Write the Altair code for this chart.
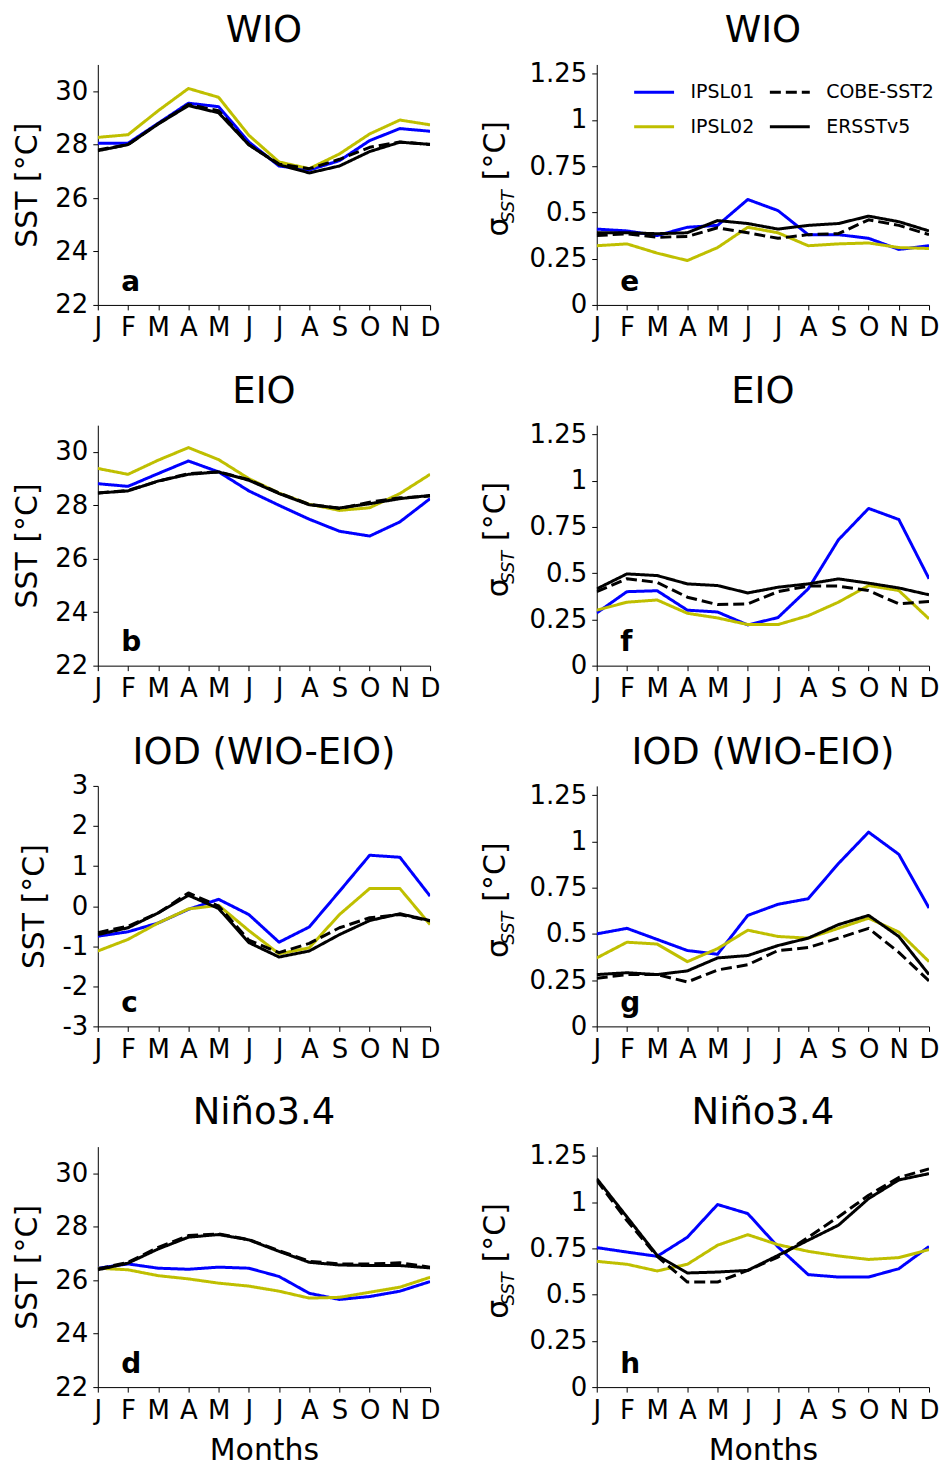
import altair as alt
import pandas as pd

FONT = "DejaVu Sans"

MONTH_LABELS = ["J", "F", "M", "A", "M", "J", "J", "A", "S", "O", "N", "D"]
MONTH_INDEX = list(range(12))
SERIES = ["IPSL01", "IPSL02", "COBE-SST2", "ERSSTv5"]
SERIES_COLORS = ["#0000ff", "#bfbf00", "#000000", "#000000"]
SERIES_DASHES = [[1, 0], [1, 0], [11, 5], [1, 0]]

# ---- WIO mean SST (a)
wio_mean_ipsl01 = [28.05, 28.05, 28.8, 29.55, 29.42, 28.1, 27.2, 27.05, 27.4, 28.15, 28.6, 28.5]
wio_mean_ipsl02 = [28.27, 28.37, 29.27, 30.1, 29.77, 28.35, 27.35, 27.1, 27.65, 28.4, 28.92, 28.74]
wio_mean_cobe = [27.8, 28.0, 28.78, 29.5, 29.27, 28.0, 27.27, 27.1, 27.45, 27.9, 28.1, 28.0]
wio_mean_ersst = [27.77, 28.0, 28.77, 29.46, 29.19, 27.99, 27.25, 26.94, 27.2, 27.74, 28.09, 28.01]

# ---- WIO std (e)
wio_std_ipsl01 = [0.41, 0.40, 0.375, 0.42, 0.43, 0.57, 0.51, 0.38, 0.38, 0.36, 0.30, 0.32]
wio_std_ipsl02 = [0.32, 0.33, 0.28, 0.24, 0.31, 0.42, 0.39, 0.32, 0.33, 0.335, 0.31, 0.305]
wio_std_cobe = [0.375, 0.385, 0.366, 0.37, 0.417, 0.39, 0.36, 0.38, 0.385, 0.46, 0.43, 0.38]
wio_std_ersst = [0.39, 0.39, 0.385, 0.39, 0.456, 0.44, 0.41, 0.43, 0.44, 0.48, 0.45, 0.40]

# ---- EIO mean SST (b)
eio_mean_ipsl01 = [28.81, 28.71, 29.19, 29.66, 29.25, 28.54, 28.0, 27.48, 27.03, 26.85, 27.38, 28.25]
eio_mean_ipsl02 = [29.38, 29.16, 29.69, 30.16, 29.71, 29.0, 28.46, 28.04, 27.81, 27.91, 28.44, 29.16]
eio_mean_cobe = [28.46, 28.56, 28.9, 29.19, 29.25, 28.96, 28.46, 28.04, 27.88, 28.12, 28.28, 28.35]
eio_mean_ersst = [28.46, 28.54, 28.91, 29.16, 29.25, 28.94, 28.44, 28.02, 27.9, 28.06, 28.25, 28.37]

# ---- EIO std (f)
eio_std_ipsl01 = [0.285, 0.40, 0.405, 0.30, 0.29, 0.22, 0.26, 0.415, 0.68, 0.85, 0.79, 0.47]
eio_std_ipsl02 = [0.30, 0.343, 0.355, 0.283, 0.258, 0.222, 0.222, 0.27, 0.343, 0.433, 0.406, 0.253]
eio_std_cobe = [0.40, 0.47, 0.45, 0.37, 0.33, 0.334, 0.40, 0.43, 0.43, 0.406, 0.334, 0.347]
eio_std_ersst = [0.415, 0.496, 0.487, 0.442, 0.433, 0.393, 0.424, 0.442, 0.469, 0.446, 0.42, 0.383]

# ---- IOD mean (c)
iod_mean_ipsl01 = [-0.75, -0.64, -0.42, -0.08, 0.17, -0.21, -0.9, -0.52, 0.37, 1.27, 1.22, 0.25]
iod_mean_ipsl02 = [-1.12, -0.83, -0.42, -0.07, 0.02, -0.61, -1.19, -1.04, -0.21, 0.44, 0.44, -0.46]
iod_mean_cobe = [-0.66, -0.5, -0.17, 0.33, 0.0, -0.85, -1.16, -0.93, -0.54, -0.29, -0.21, -0.37]
iod_mean_ersst = [-0.71, -0.54, -0.17, 0.27, -0.06, -0.91, -1.27, -1.12, -0.71, -0.36, -0.19, -0.36]

# ---- IOD std (g)
iod_std_ipsl01 = [0.50, 0.53, 0.47, 0.41, 0.39, 0.60, 0.66, 0.69, 0.88, 1.05, 0.93, 0.64]
iod_std_ipsl02 = [0.37, 0.455, 0.445, 0.35, 0.42, 0.52, 0.486, 0.477, 0.53, 0.585, 0.51, 0.35]
iod_std_cobe = [0.26, 0.28, 0.28, 0.24, 0.305, 0.333, 0.41, 0.426, 0.477, 0.53, 0.40, 0.246]
iod_std_ersst = [0.28, 0.29, 0.28, 0.30, 0.37, 0.383, 0.437, 0.477, 0.55, 0.60, 0.486, 0.28]

# ---- Nino3.4 mean SST (d)
nino_mean_ipsl01 = [26.45, 26.61, 26.45, 26.41, 26.49, 26.45, 26.14, 25.51, 25.28, 25.39, 25.59, 25.95]
nino_mean_ipsl02 = [26.45, 26.39, 26.17, 26.05, 25.89, 25.78, 25.59, 25.33, 25.36, 25.55, 25.74, 26.11]
nino_mean_cobe = [26.42, 26.67, 27.23, 27.67, 27.73, 27.52, 27.11, 26.71, 26.61, 26.61, 26.65, 26.49]
nino_mean_ersst = [26.39, 26.64, 27.17, 27.61, 27.71, 27.51, 27.08, 26.67, 26.57, 26.55, 26.55, 26.46]

# ---- Nino3.4 std (h)
nino_std_ipsl01 = [0.754, 0.73, 0.707, 0.81, 0.987, 0.938, 0.758, 0.608, 0.595, 0.595, 0.64, 0.76]
nino_std_ipsl02 = [0.68, 0.664, 0.628, 0.664, 0.767, 0.824, 0.77, 0.734, 0.709, 0.69, 0.70, 0.743]
nino_std_cobe = [1.118, 0.90, 0.707, 0.568, 0.568, 0.631, 0.703, 0.81, 0.92, 1.037, 1.133, 1.18]
nino_std_ersst = [1.127, 0.92, 0.712, 0.617, 0.622, 0.631, 0.712, 0.794, 0.875, 1.019, 1.12, 1.154]

MEAN_TICKS = [22, 24, 26, 28, 30]
IOD_TICKS = [-3, -2, -1, 0, 1, 2, 3]
STD_TICKS = [0, 0.25, 0.5, 0.75, 1, 1.25]

PANELS = [
    ("WIO", "a", "mean", [wio_mean_ipsl01, wio_mean_ipsl02, wio_mean_cobe, wio_mean_ersst]),
    ("WIO", "e", "std", [wio_std_ipsl01, wio_std_ipsl02, wio_std_cobe, wio_std_ersst]),
    ("EIO", "b", "mean", [eio_mean_ipsl01, eio_mean_ipsl02, eio_mean_cobe, eio_mean_ersst]),
    ("EIO", "f", "std", [eio_std_ipsl01, eio_std_ipsl02, eio_std_cobe, eio_std_ersst]),
    ("IOD (WIO-EIO)", "c", "iod", [iod_mean_ipsl01, iod_mean_ipsl02, iod_mean_cobe, iod_mean_ersst]),
    ("IOD (WIO-EIO)", "g", "std", [iod_std_ipsl01, iod_std_ipsl02, iod_std_cobe, iod_std_ersst]),
    ("Niño3.4", "d", "mean", [nino_mean_ipsl01, nino_mean_ipsl02, nino_mean_cobe, nino_mean_ersst]),
    ("Niño3.4", "h", "std", [nino_std_ipsl01, nino_std_ipsl02, nino_std_cobe, nino_std_ersst]),
]

W, H = 333, 241
LABEL_EXPR = "[" + ",".join("'%s'" % m for m in MONTH_LABELS) + "][datum.value]"

LEGEND = alt.Legend(title=None, orient="none", legendX=536, legendY=6, columns=2,
                    symbolType="stroke", symbolSize=1600, symbolStrokeWidth=3,
                    labelFont=FONT, labelFontSize=19, labelColor="black",
                    labelOffset=15, columnPadding=9, rowPadding=3)


def text_layer(txt, **kw):
    enc = {k: v for k, v in kw.items() if k in ("x", "y")}
    mk = {k: v for k, v in kw.items() if k not in ("x", "y")}
    return alt.Chart(pd.DataFrame({"t": [txt]})).mark_text(font=FONT, color="black", **mk).encode(
        text="t:N", **enc)


def make_panel(title, letter, kind, series_values, bottom):
    rows = []
    for s, vals in zip(SERIES, series_values):
        for m, v in zip(MONTH_INDEX, vals):
            rows.append({"month": m, "value": v, "series": s})
    df = pd.DataFrame(rows)
    if kind == "mean":
        dom, ticks = [22, 31], MEAN_TICKS
    elif kind == "iod":
        dom, ticks = [-3, 3], IOD_TICKS
    else:
        dom, ticks = [0, 1.3], STD_TICKS
    x = alt.X("month:Q", scale=alt.Scale(domain=[0, 11], nice=False, zero=False),
              axis=alt.Axis(values=MONTH_INDEX, labelExpr=LABEL_EXPR,
                            title="Months" if bottom else None, titlePadding=13,
                            labelOverlap=False, labelFlush=False))
    y = alt.Y("value:Q", scale=alt.Scale(domain=dom, nice=False, zero=False),
              axis=alt.Axis(values=ticks, labelExpr="datum.value + ''",
                            labelOverlap=False, labelFlush=False,
                            title="SST [°C]" if kind != "std" else None, titlePadding=12))
    color = alt.Color("series:N", scale=alt.Scale(domain=SERIES, range=SERIES_COLORS), legend=LEGEND)
    dash = alt.StrokeDash("series:N", scale=alt.Scale(domain=SERIES, range=SERIES_DASHES), legend=LEGEND)
    base = alt.Chart(df)
    layers = [
        base.transform_filter(alt.datum.series == s).mark_line(strokeWidth=3, clip=True, strokeJoin="round").encode(
            x=x, y=y, color=color, strokeDash=dash)
        for s in SERIES
    ]
    layers.append(text_layer(title, fontSize=37, align="center", baseline="alphabetic",
                             x=alt.value(W / 2), y=alt.value(-22.4)))
    layers.append(text_layer(letter, fontSize=28, fontWeight="bold", align="left", baseline="alphabetic",
                             x=alt.value(23.5), y=alt.value(H - 14.4)))
    if kind == "std":
        layers.append(text_layer("σ", fontSize=30, angle=270, align="left", baseline="alphabetic",
                                 x=alt.value(-88.5), y=alt.value(172.5)))
        layers.append(text_layer("SST", fontSize=18, fontStyle="italic", angle=270, align="left",
                                 baseline="alphabetic", x=alt.value(-83.4), y=alt.value(159)))
        layers.append(text_layer("[°C]", fontSize=30, angle=270, align="left", baseline="alphabetic",
                                 x=alt.value(-92), y=alt.value(116)))
    return alt.layer(*layers).properties(width=W, height=H)


panels = []
for i, (title, letter, kind, vals) in enumerate(PANELS):
    panels.append(make_panel(title, letter, kind, vals, bottom=(i >= 6)))

chart = alt.concat(*panels, columns=2, spacing={"row": 120.5, "column": 167}, bounds="flush").resolve_scale(
    y="independent"
).properties(
    padding={"left": 4, "right": 0, "top": 2, "bottom": 0}
).configure_view(stroke=None).configure_axis(
    labelFont=FONT, labelFontSize=26, labelColor="black",
    titleFont=FONT, titleFontSize=30, titleFontWeight="normal", titleColor="black",
    tickSize=5, tickColor="black", tickWidth=1, domainColor="black", domainWidth=1,
    labelPadding=5, grid=False,
)

chart.save("out.html", embed_options={"renderer": "svg", "actions": False})
